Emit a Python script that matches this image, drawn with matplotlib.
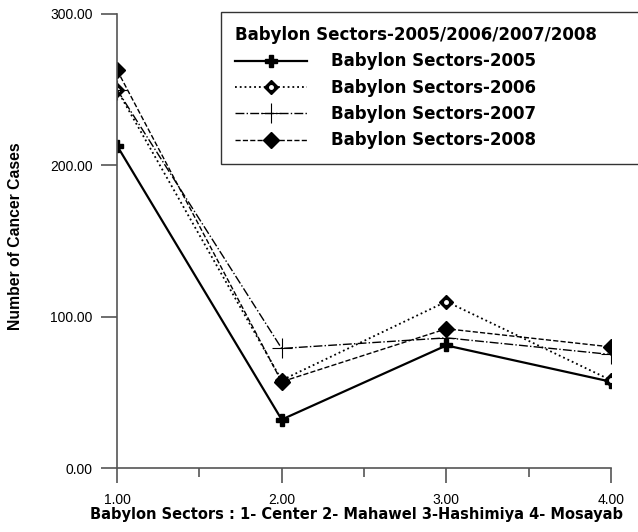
import matplotlib.pyplot as plt
from matplotlib.ticker import MultipleLocator, FormatStrFormatter

plt.rcParams['font.family'] = ['Liberation Sans', 'DejaVu Sans']

sectors = [1, 2, 3, 4]
cases_2005 = [213, 32, 81, 57]
cases_2006 = [250, 58, 110, 58]
cases_2007 = [250, 79, 86, 75]
cases_2008 = [263, 57, 92, 80]

fig = plt.figure(figsize=(6.38, 5.32), dpi=100)
ax = fig.add_axes([0.1834, 0.1203, 0.7743, 0.8534])

l05, = ax.plot(sectors, cases_2005, '-', color='black', lw=1.6, marker='P',
               ms=9, label='Babylon Sectors-2005')
l06, = ax.plot(sectors, cases_2006, ':', color='black', lw=1.3, marker='D',
               ms=7, label='Babylon Sectors-2006')
# small white dot inside the 2006 diamonds
d06, = ax.plot(sectors, cases_2006, ls='none', marker='o', ms=2.5,
               color='white', markeredgecolor='white')
l07, = ax.plot(sectors, cases_2007, '-.', color='black', lw=1.0, marker='+',
               ms=14, mew=0.8, label='Babylon Sectors-2007')
l08, = ax.plot(sectors, cases_2008, '--', color='black', lw=1.0, marker='D',
               ms=8, label='Babylon Sectors-2008')

ax.set_xlim(1, 4)
ax.set_ylim(0, 300)
ax.xaxis.set_major_locator(MultipleLocator(1))
ax.xaxis.set_minor_locator(MultipleLocator(0.5))
ax.yaxis.set_major_locator(MultipleLocator(100))
ax.xaxis.set_major_formatter(FormatStrFormatter('%.2f'))
ax.yaxis.set_major_formatter(FormatStrFormatter('%.2f'))

for s in ['top', 'right']:
    ax.spines[s].set_visible(False)
for s in ['left', 'bottom']:
    ax.spines[s].set_color('#555555')
    ax.spines[s].set_linewidth(1.2)

ax.tick_params(axis='x', which='major', direction='out', length=11, width=1.2,
               color='#555555', labelsize=10, pad=7)
ax.tick_params(axis='x', which='minor', direction='out', length=6.5,
               width=1.2, color='#555555')
ax.tick_params(axis='y', which='major', direction='out', length=11.5,
               width=1.2, color='#555555', labelsize=10, pad=6)

ax.set_xlabel('Babylon Sectors : 1- Center 2- Mahawel 3-Hashimiya 4- Mosayab',
              fontsize=10.5, fontweight='bold', family='DejaVu Sans')
ax.xaxis.set_label_coords(0.485, -0.087)
ax.set_ylabel('Number of Cancer Cases', fontsize=11.3, fontweight='bold')
ax.yaxis.set_label_coords(-0.19, 0.51)

# legend box runs off the right edge, as in the original
leg = ax.legend([l05, (l06, d06), l07, l08],
                [l05.get_label(), l06.get_label(), l07.get_label(),
                 l08.get_label()],
                loc='upper left', bbox_to_anchor=(0.2105, 0.5, 0.86, 0.5044),
                mode='expand',
                title='Babylon Sectors-2005/2006/2007/2008',
                prop={'family': 'DejaVu Sans', 'weight': 'bold', 'size': 12},
                title_fontproperties={'family': 'DejaVu Sans',
                                      'weight': 'bold', 'size': 12},
                frameon=True, fancybox=False, edgecolor='black',
                handlelength=4.3, handletextpad=1.45, borderpad=0.85,
                labelspacing=0.5, borderaxespad=0)
leg._legend_box.align = 'left'
leg.get_frame().set_linewidth(1.0)

fig.savefig('out.png', dpi=100)
